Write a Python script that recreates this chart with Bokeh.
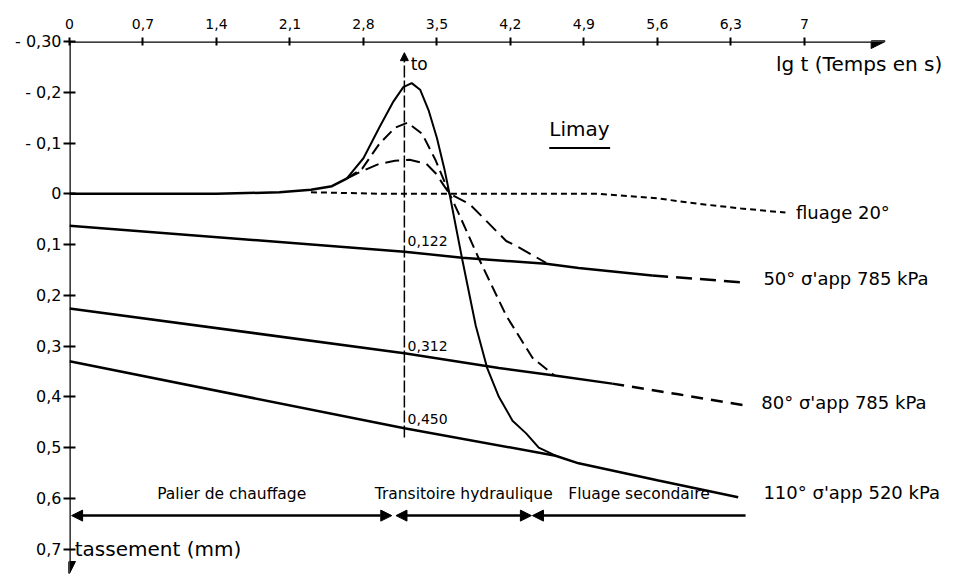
from bokeh.plotting import figure
from bokeh.models import Range1d, FixedTicker, Arrow, NormalHead
from bokeh.core.properties import value
from bokeh.embed import file_html
from bokeh.resources import INLINE

# ---------------- data ----------------
x_ticks = [0, 0.7, 1.4, 2.1, 2.8, 3.5, 4.2, 4.9, 5.6, 6.3, 7]
x_tick_labels = ["0", "0,7", "1,4", "2,1", "2,8", "3,5", "4,2", "4,9", "5,6", "6,3", "7"]
y_ticks = [-0.3, -0.2, -0.1, 0, 0.1, 0.2, 0.3, 0.4, 0.5, 0.6, 0.7]
y_tick_labels = ["- 0,30", "- 0,2", "- 0,1", "0", "0,1", "0,2", "0,3", "0,4", "0,5", "0,6", "0,7"]

t0 = 3.19  # lg t0

# common heating base (solid)
base_x = [0, 1.4, 2.0, 2.3, 2.5, 2.64]
base_y = [0.0, 0.0, -0.003, -0.008, -0.015, -0.03]

# creep at 20 degrees (short dashes)
fluage_x = [2.3, 3.0, 4.0, 5.04, 5.6, 6.0, 6.4, 6.82]
fluage_y = [-0.003, 0.0, 0.0, 0.0, 0.009, 0.02, 0.029, 0.037]

# 110 deg transient (solid)
tr110_x = [2.64, 2.8, 2.95, 3.08, 3.18, 3.26, 3.34, 3.42, 3.5, 3.57, 3.62, 3.74, 3.87, 3.98, 4.09, 4.22, 4.35, 4.47, 4.63]
tr110_y = [-0.03, -0.07, -0.13, -0.18, -0.21, -0.218, -0.205, -0.165, -0.11, -0.05, 0.0, 0.128, 0.26, 0.344, 0.40, 0.447, 0.472, 0.50, 0.516]

# 80 deg transient (dashed)
tr80_x = [2.64, 2.79, 2.95, 3.1, 3.22, 3.36, 3.49, 3.62, 3.71, 3.9, 4.16, 4.41, 4.62]
tr80_y = [-0.03, -0.05, -0.098, -0.13, -0.14, -0.118, -0.065, 0.0, 0.04, 0.128, 0.24, 0.323, 0.358]

# 50 deg transient (dashed)
tr50_x = [2.64, 2.79, 2.95, 3.1, 3.24, 3.4, 3.49, 3.57, 3.62, 3.81, 4.16, 4.25, 4.54]
tr50_y = [-0.03, -0.045, -0.059, -0.065, -0.067, -0.059, -0.04, -0.015, 0.0, 0.02, 0.093, 0.102, 0.136]

# long-term lines
l50_x = [0, t0, 3.74, 4.54, 4.85, 5.55]
l50_y = [0.063, 0.114, 0.126, 0.138, 0.146, 0.161]
l50d_x = [5.55, 6.0, 6.44]
l50d_y = [0.161, 0.168, 0.175]

l80_x = [0, t0, 4.09, 4.62, 5.17]
l80_y = [0.226, 0.314, 0.343, 0.358, 0.374]
l80d_x = [5.17, 5.8, 6.44]
l80d_y = [0.374, 0.395, 0.417]

l110_x = [0, t0, 4.63, 4.85, 5.61, 6.37]
l110_y = [0.33, 0.462, 0.516, 0.531, 0.565, 0.598]

# values read at t0
v_labels = ["0,122", "0,312", "0,450"]
v_y = [0.093, 0.30, 0.443]

# curve labels
c_labels = ["fluage 20°", "50° σ'app 785 kPa", "80° σ'app 785 kPa", "110° σ'app 520 kPa"]
c_x = [6.92, 6.61, 6.59, 6.61]
c_y = [0.037, 0.167, 0.411, 0.589]

# phases
phase_names = ["Palier de chauffage", "Transitoire hydraulique", "Fluage secondaire"]
phase_start = [0.02, 3.11, 4.41]
phase_end = [3.07, 4.40, 6.44]
phase_y = 0.634

FONT = "DejaVu Sans"

p = figure(width=955, height=576, output_backend="svg", toolbar_location=None,
           x_axis_location="above",
           x_range=Range1d(0, 8.44), y_range=Range1d(0.75, -0.30),
           min_border_left=69, min_border_right=0, min_border_top=41, min_border_bottom=2)
p.outline_line_color = None
p.grid.visible = False
p.background_fill_color = "white"

# axes
p.xaxis.ticker = FixedTicker(ticks=x_ticks)
p.xaxis.major_label_overrides = dict(zip(x_ticks, x_tick_labels))
p.yaxis.ticker = FixedTicker(ticks=y_ticks)
p.yaxis.major_label_overrides = dict(zip(y_ticks, y_tick_labels))
for ax in (p.xaxis, p.yaxis):
    ax.axis_line_color = None
    ax.major_tick_line_color = "black"
    ax.major_tick_line_width = 2
    ax.minor_tick_line_color = None
    ax.major_label_text_font = FONT
    ax.major_label_text_color = "black"
p.xaxis.major_tick_in = 4
p.xaxis.major_tick_out = 4
p.xaxis.major_label_standoff = 9
p.xaxis.major_label_text_font_size = "14px"
p.yaxis.major_tick_in = 6
p.yaxis.major_tick_out = 6
p.yaxis.major_label_standoff = 2
p.yaxis.major_label_text_font_size = "16px"

# axis lines with arrows
p.add_layout(Arrow(end=NormalHead(size=14, fill_color="black", line_color="black"),
                   x_start=0, y_start=-0.30, x_end=7.77, y_end=-0.30,
                   line_width=2.5, line_color="black"))
p.add_layout(Arrow(end=NormalHead(size=12, fill_color="black", line_color="black"),
                   x_start=0, y_start=-0.30, x_end=0, y_end=0.748,
                   line_width=2.5, line_color="black"))

# t0 line
p.add_layout(Arrow(end=NormalHead(size=8, fill_color="black", line_color="black"),
                   x_start=t0, y_start=0.48, x_end=t0, y_end=-0.278,
                   line_width=1.5, line_color="black", line_dash="12 3"))

# curves
p.line(base_x, base_y, line_color="black", line_width=2.5)
p.line(fluage_x, fluage_y, line_color="black", line_width=2, line_dash="6 4")
p.line(tr110_x, tr110_y, line_color="black", line_width=2)
p.line(tr80_x, tr80_y, line_color="black", line_width=2, line_dash="12 6")
p.line(tr50_x, tr50_y, line_color="black", line_width=2, line_dash="14 7")
p.line(l50_x, l50_y, line_color="black", line_width=2.5)
p.line(l50d_x, l50d_y, line_color="black", line_width=2.5, line_dash="16 8")
p.line(l80_x, l80_y, line_color="black", line_width=2.5)
p.line(l80d_x, l80d_y, line_color="black", line_width=2.5, line_dash="12 8")
p.line(l110_x, l110_y, line_color="black", line_width=2.5)

# value labels at t0
p.text(x=[t0 + 0.03] * len(v_labels), y=v_y, text=v_labels,
       text_font=value(FONT), text_font_size=value("14px"),
       text_baseline="middle", text_align="left", text_color="black")

# curve labels
p.text(x=c_x, y=c_y, text=c_labels, text_font=value(FONT),
       text_font_size=value("18px"), text_baseline="middle", text_align="left",
       text_color="black")

# other texts
p.text(x=[t0 + 0.06], y=[-0.256], text=["to"], text_font=value(FONT),
       text_font_size=value("17px"), text_baseline="middle", text_align="left")
p.text(x=[6.73], y=[-0.256], text=["lg t (Temps en s)"], text_font=value(FONT),
       text_font_size=value("20px"), text_baseline="middle", text_align="left")
p.text(x=[4.57], y=[-0.128], text=["Limay"], text_font=value(FONT),
       text_font_size=value("20px"), text_baseline="middle", text_align="left")
p.line([4.57, 5.15], [-0.09, -0.09], line_color="black", line_width=2)
p.text(x=[0.05], y=[0.70], text=["tassement (mm)"], text_font=value(FONT),
       text_font_size=value("20px"), text_baseline="middle", text_align="left")

# phase labels and arrows
pmid = [(a + b) / 2 for a, b in zip(phase_start, phase_end)]
p.text(x=pmid, y=[0.592] * 3, text=phase_names, text_font=value(FONT),
       text_font_size=value("15.5px"), text_baseline="middle", text_align="center")
for i, (a, b) in enumerate(zip(phase_start, phase_end)):
    end_head = NormalHead(size=11, fill_color="black", line_color="black") if i < 2 else None
    p.add_layout(Arrow(start=NormalHead(size=11, fill_color="black", line_color="black"),
                       end=end_head,
                       x_start=a, y_start=phase_y, x_end=b, y_end=phase_y,
                       line_width=2.5, line_color="black"))

open("out.html", "w").write(file_html(p, INLINE))
